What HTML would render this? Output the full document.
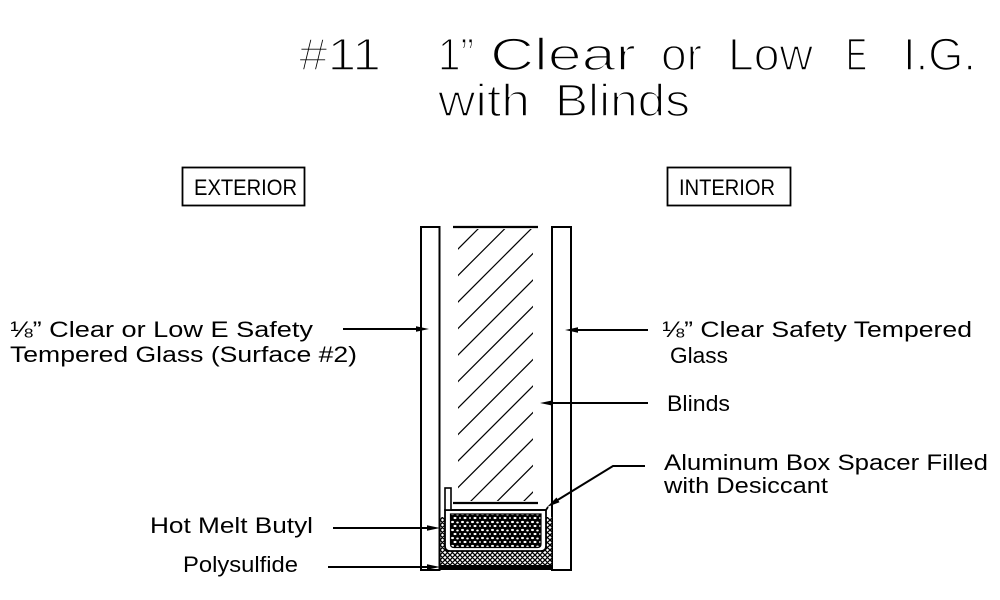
<!DOCTYPE html>
<html><head><meta charset="utf-8"><style>
html,body{margin:0;padding:0;background:#fff;}
svg{display:block;}
text{font-family:"Liberation Sans",sans-serif;fill:#000;}
.t{font-size:45px;stroke:#fff;stroke-width:1.6px;}
.l{font-size:22px;}
</style></head><body>
<svg width="1000" height="600" viewBox="0 0 1000 600" xmlns="http://www.w3.org/2000/svg">
<defs>
  <pattern id="xh" width="5" height="5" patternUnits="userSpaceOnUse">
    <rect width="5" height="5" fill="#fff"/>
    <path d="M0,0 L5,5 M5,0 L0,5 M-1,4 L1,6 M4,-1 L6,1 M-1,1 L1,-1 M4,6 L6,4" stroke="#000" stroke-width="1.3"/>
  </pattern>
  <pattern id="ds" width="10" height="8" patternUnits="userSpaceOnUse">
    <rect width="10" height="8" fill="#000"/>
    <ellipse cx="2.5" cy="2" rx="1.5" ry="1.1" fill="#fff"/>
    <ellipse cx="7.5" cy="2.5" rx="1.3" ry="1" fill="#fff"/>
    <ellipse cx="5" cy="6" rx="1.5" ry="1.1" fill="#fff"/>
    <ellipse cx="0" cy="6" rx="1" ry="0.9" fill="#fff"/>
    <ellipse cx="10" cy="6" rx="1" ry="0.9" fill="#fff"/>
  </pattern>
  <clipPath id="bc"><rect x="458" y="229" width="75" height="272"/></clipPath>
</defs>

<!-- Title -->
<text class="t" x="299" y="70" textLength="82" lengthAdjust="spacingAndGlyphs">#11</text>
<text class="t" x="438" y="70" textLength="36" lengthAdjust="spacingAndGlyphs">1”</text>
<text class="t" x="490" y="70" textLength="146" lengthAdjust="spacingAndGlyphs">Clear</text>
<text class="t" x="661" y="70" textLength="41" lengthAdjust="spacingAndGlyphs">or</text>
<text class="t" x="728" y="70" textLength="85" lengthAdjust="spacingAndGlyphs">Low</text>
<text class="t" x="846" y="70" textLength="21" lengthAdjust="spacingAndGlyphs">E</text>
<text class="t" x="903" y="70" textLength="73" lengthAdjust="spacingAndGlyphs">I.G.</text>
<text class="t" x="438" y="116" textLength="92" lengthAdjust="spacingAndGlyphs">with</text>
<text class="t" x="555" y="116" textLength="135" lengthAdjust="spacingAndGlyphs">Blinds</text>

<!-- Boxes -->
<rect x="182.5" y="167.5" width="122" height="38" fill="none" stroke="#000" stroke-width="1.8"/>
<text class="l" x="194" y="195" textLength="103" lengthAdjust="spacingAndGlyphs">EXTERIOR</text>
<rect x="667.5" y="167.5" width="123" height="38" fill="none" stroke="#000" stroke-width="1.8"/>
<text class="l" x="679" y="195" textLength="96" lengthAdjust="spacingAndGlyphs">INTERIOR</text>

<!-- Glass panes -->
<rect x="421" y="227" width="18.5" height="343" fill="none" stroke="#000" stroke-width="2"/>
<rect x="552" y="227" width="19" height="343" fill="none" stroke="#000" stroke-width="2"/>

<!-- Blinds -->
<line x1="453" y1="227" x2="538" y2="227" stroke="#000" stroke-width="2.2"/>
<line x1="453" y1="503" x2="538" y2="503" stroke="#000" stroke-width="2.2"/>
<g clip-path="url(#bc)" stroke="#000" stroke-width="1.2">
  <line x1="407" y1="300" x2="707" y2="0"/>
  <line x1="407" y1="326.5" x2="733.5" y2="0"/>
  <line x1="407" y1="353" x2="760" y2="0"/>
  <line x1="407" y1="379.5" x2="786.5" y2="0"/>
  <line x1="407" y1="406" x2="813" y2="0"/>
  <line x1="407" y1="432.5" x2="839.5" y2="0"/>
  <line x1="407" y1="459" x2="866" y2="0"/>
  <line x1="407" y1="485.5" x2="892.5" y2="0"/>
  <line x1="407" y1="512" x2="919" y2="0"/>
  <line x1="407" y1="538.5" x2="945.5" y2="0"/>
  <line x1="407" y1="565" x2="972" y2="0"/>
  <line x1="407" y1="591.5" x2="998.5" y2="0"/>
  <line x1="407" y1="618" x2="1025" y2="0"/>
</g>

<!-- Butyl crosshatch -->
<rect x="440.5" y="517" width="111" height="48" fill="url(#xh)"/>
<!-- Polysulfide band -->
<rect x="440" y="565" width="113" height="5" fill="#000"/>

<!-- Spacer -->
<path d="M445,510 L445,546 Q445,551 450,551 L541,551 Q546,551 546,546 L546,510 Z" fill="#fff" stroke="#000" stroke-width="1.8"/>
<rect x="445" y="488" width="6" height="22" fill="#fff" stroke="#000" stroke-width="1.6"/>
<path d="M451,510 L546,510 L548,507" fill="none" stroke="#000" stroke-width="1.8"/>
<path d="M450.5,514 L541,514 L541,544 Q541,547.5 537.5,547.5 L454,547.5 Q450.5,547.5 450.5,544 Z" fill="url(#ds)" stroke="#000" stroke-width="1.2"/>

<!-- Leaders -->
<g stroke="#000" stroke-width="2" fill="none">
  <line x1="343" y1="329" x2="420" y2="329"/>
  <line x1="578" y1="330" x2="648" y2="330"/>
  <line x1="552" y1="403" x2="648" y2="403"/>
  <polyline points="645,466 613,466 556,501"/>
  <line x1="333" y1="528" x2="430" y2="528"/>
  <line x1="328" y1="567" x2="430" y2="567"/>
</g>
<g fill="#000">
  <polygon points="429,329 416,326.3 416,331.7"/>
  <polygon points="565,330 578,327.3 578,332.7"/>
  <polygon points="540,403 553,400.3 553,405.7"/>
  <polygon points="547,507 556.5,497.5 559.5,502.3"/>
  <polygon points="440,528 427,525.3 427,530.7"/>
  <polygon points="440,567 427,564.3 427,569.7"/>
</g>

<!-- Labels -->
<text class="l" x="10" y="337" textLength="303" lengthAdjust="spacingAndGlyphs">⅛” Clear or Low E Safety</text>
<text class="l" x="10" y="362" textLength="347" lengthAdjust="spacingAndGlyphs">Tempered Glass (Surface #2)</text>
<text class="l" x="662" y="337" textLength="310" lengthAdjust="spacingAndGlyphs">⅛” Clear Safety Tempered</text>
<text class="l" x="670" y="363" textLength="58" lengthAdjust="spacingAndGlyphs">Glass</text>
<text class="l" x="667" y="411" textLength="63" lengthAdjust="spacingAndGlyphs">Blinds</text>
<text class="l" x="664" y="470" textLength="324" lengthAdjust="spacingAndGlyphs">Aluminum Box Spacer Filled</text>
<text class="l" x="664" y="493" textLength="164" lengthAdjust="spacingAndGlyphs">with Desiccant</text>
<text class="l" x="150" y="533" textLength="163" lengthAdjust="spacingAndGlyphs">Hot Melt Butyl</text>
<text class="l" x="183" y="572" textLength="115" lengthAdjust="spacingAndGlyphs">Polysulfide</text>
</svg>
</body></html>
